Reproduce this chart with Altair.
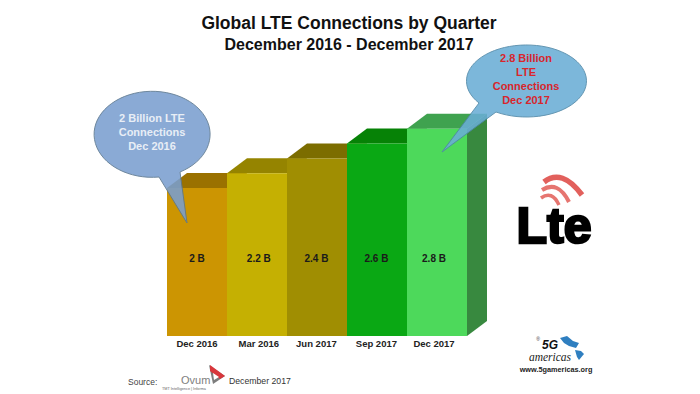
import altair as alt
import pandas as pd

quarters = ["Dec 2016", "Mar 2016", "Jun 2017", "Sep 2017", "Dec 2017"]
labels = ["2 B", "2.2 B", "2.4 B", "2.6 B", "2.8 B"]
heights = [2.0, 2.2, 2.4, 2.6, 2.8]
front = ["#cc9502", "#c5b002", "#a08e02", "#0aa814", "#4dd95b"]
top = ["#9a7100", "#958400", "#7c6d00", "#068206", "#3fa24f"]
side = ["#8f6a00", "#8a7a00", "#706200", "#06750a", "#38893f"]

DX, DY = 20 / 60, 15 / 74
X = alt.Scale(domain=[-2.65, 8.75], range=[0, 684], nice=False, zero=False)
Y = alt.Scale(domain=[-0.7838, 4.4324], range=[386, 0], nice=False, zero=False)
F = "Liberation Sans"

def qx(f="x"):
    return alt.X(f"{f}:Q", scale=X, axis=None)

def qy(f="y"):
    return alt.Y(f"{f}:Q", scale=Y, axis=None)

layers = []
for i, h in enumerate(heights):
    d_side = pd.DataFrame({"x": [i + 1, i + 1 + DX], "y": [0, DY], "y2": [h, h + DY]})
    layers.append(alt.Chart(d_side).mark_area(color=side[i], orient="vertical", opacity=1)
                  .encode(x=qx(), y=qy(), y2="y2:Q"))
    d_top = pd.DataFrame({"y": [h, h + DY], "x": [i, i + DX], "x2": [i + 1, i + 1 + DX]})
    layers.append(alt.Chart(d_top).mark_area(color=top[i], orient="horizontal", opacity=1)
                  .encode(y=qy(), x=qx(), x2="x2:Q"))
    d_f = pd.DataFrame({"x": [i], "x2": [i + 1], "y": [0], "y2": [h]})
    layers.append(alt.Chart(d_f).mark_rect(color=front[i])
                  .encode(x=qx(), x2="x2:Q", y=qy(), y2="y2:Q"))

tbl = pd.DataFrame({"x": [0.5 + k for k in range(5)], "q": quarters, "l": labels, "y": [0] * 5})
label_nudge = [-0.0, 0.03, -0.01, -0.01, -0.05]
tbl["xl"] = [a + b for a, b in zip(tbl["x"], label_nudge)]
layers.append(alt.Chart(tbl).mark_text(font=F, fontWeight="bold", fontSize=10, color="#1a1a1a", dy=-77)
              .encode(x=qx("xl"), y=qy(), text="l:N"))
layers.append(alt.Chart(tbl).mark_text(font=F, fontWeight="bold", fontSize=9.5, color="#222222", dy=8)
              .encode(x=qx("xl"), y=qy(), text="q:N"))

def px(x, y):
    return dict(x=alt.value(x - 8), y=alt.value(y - 8))

one = pd.DataFrame({"a": [1]})

def text(s, x, y, size, color="#111111", weight="normal", align="center", **kw):
    return (alt.Chart(one).mark_text(text=s, font=kw.pop("font", F), fontSize=size, color=color,
                                     fontWeight=weight, align=align, baseline="middle", **kw)
            .encode(**px(x, y)))

def path(d, x, y, **kw):
    return alt.Chart(one).mark_point(shape=d, size=4, opacity=kw.pop("opacity", 1), **kw).encode(**px(x, y))

layers += [
    text("Global LTE Connections by Quarter", 349, 24, 17.5, weight="bold"),
    text("December 2016 - December 2017", 349, 45, 16, weight="bold"),
    path("M31,37 A58,43 0 1 0 10,42 L38,88 Z", 149, 135, filled=True, fill="#7a9fd0",
         stroke="#5c7890", strokeWidth=1, opacity=0.88),
    path("M-43,24 A60,36 0 1 1 -26,33 L-80,73 Z", 522, 79, filled=True, fill="#6aaed6",
         stroke="#4f88a8", strokeWidth=1, opacity=0.88),
]
for s, y in zip(["2 Billion LTE", "Connections", "Dec 2016"], [119, 133, 147]):
    layers.append(text(s, 152, y, 11, color="#e8eef6", weight="bold"))
for s, y in zip(["2.8 Billion", "LTE", "Connections", "Dec 2017"], [59, 73, 87, 101]):
    layers.append(text(s, 526, y, 11, color="#d8262c", weight="bold"))

# LTE logo
layers += [
    path("M0,0 Q18,-14 38,13", 544, 182, filled=False, stroke="#e2605c", strokeWidth=5.5),
    path("M0,0 Q16,-10 27,12", 542, 190, filled=False, stroke="#e67570", strokeWidth=4),
    path("M0,0 Q11,-8 18,7", 541, 198, filled=False, stroke="#e67570", strokeWidth=3.5),
    text("Lte", 554, 228, 50, color="#000000", weight="bold", stroke="#000000", strokeWidth=2.5),
]

# Source line
layers += [
    text("Source:", 128, 382, 8.5, color="#444444", align="left"),
    text("Ovum", 181, 381, 11, color="#808080", align="left"),
    text("TMT Intelligence | Informa", 162, 389, 3.8, color="#666666", align="left"),
    path("M0,0 L16,11 L4,19 Z", 209, 365, filled=True, fill="#7d7d7d"),
    path("M1,0 L16,11 L11,14 L1,6 Z", 209, 365, filled=True, fill="#d8373c"),
    path("M4,8 L10,12 L5,15 Z", 209, 365, filled=True, fill="#ffffff"),
    text("December 2017", 229, 381, 8.7, color="#333333", align="left"),
]

# 5G Americas logo
layers += [
    path("M0,0 L7,-2 L13,3 L19,5 L16,10 L9,8 L4,5 Z", 560, 338, filled=True, fill="#2f7fc0"),
    path("M0,0 L6,1 L9,4 L4,10 L2,7 Z", 575, 350, filled=True, fill="#2f7fc0"),
    text("®", 538, 339, 5, color="#333333"),
    text("5G", 550, 345, 12, color="#111111", weight="bold", fontStyle="italic"),
    text("americas", 550, 358, 11.5, color="#222222", fontStyle="italic", font="Liberation Serif"),
    text("www.5gamericas.org", 556, 370, 7.3, color="#222222", weight="bold"),
]

chart = alt.layer(*layers).properties(width=684, height=386, padding=0,
                                      autosize=alt.AutoSizeParams(type="none"),
                                      background="white").configure_view(stroke=None)
chart.save("out.html", embed_options={"renderer": "svg", "actions": False})
